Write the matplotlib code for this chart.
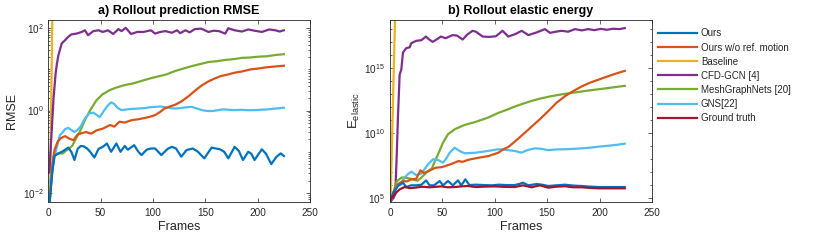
import numpy as np
import matplotlib
matplotlib.use("Agg")
import matplotlib.pyplot as plt
from matplotlib.ticker import FixedLocator, LogFormatterMathtext, NullFormatter

plt.rcParams['font.family'] = ['Liberation Sans', 'DejaVu Sans']
plt.rcParams['mathtext.fontset'] = 'custom'
plt.rcParams['mathtext.rm'] = 'Liberation Sans'
plt.rcParams['mathtext.it'] = 'Liberation Sans:italic'

# ---------------- data (log10 values) ----------------
labels = ["Ours", "Ours w/o ref. motion", "Baseline", "CFD-GCN [4]",
          "MeshGraphNets [20]", "GNS[22]", "Ground truth"]
colors = ["#0072BD", "#D95319", "#EDB120", "#7E2F8E", "#77AC30", "#4DBEEE", "#A2142F"]

# a) RMSE
rmse_ours_f = [1, 2, 4, 6, 9, 13, 16, 19, 22, 25, 28, 31, 34, 37, 40, 44, 48, 52, 56, 60, 65, 69,
               73, 76, 82, 86, 89, 94, 98, 102, 108, 114, 118, 122, 127, 132, 138, 143, 149, 156,
               164, 168, 172, 178, 182, 186, 191, 194, 197, 204, 208, 213, 218, 222, 225]
rmse_ours = [-2.3, -2.0, -1.45, -1.1, -1.05, -1.0, -0.95, -0.9, -1.0, -1.2, -0.93, -0.86, -0.87,
             -0.92, -1.0, -1.14, -0.93, -0.88, -0.80, -1.0, -0.80, -1.0, -0.86, -0.95, -0.84,
             -1.0, -1.08, -0.95, -0.92, -0.92, -1.08, -0.93, -0.88, -0.92, -1.12, -0.96, -0.92,
             -1.0, -1.16, -0.9, -0.94, -1.0, -1.16, -0.88, -0.98, -1.2, -1.0, -1.05, -1.2, -0.94,
             -1.05, -1.3, -1.12, -1.04, -1.1]

rmse_norm_f = [1, 2, 4, 6, 9, 12, 16, 20, 24, 28, 32, 36, 41, 46, 52, 59, 63, 68, 73, 80, 86, 92,
               97, 102, 107, 111, 116, 121, 127, 134, 140, 146, 153, 159, 165, 172, 178, 185,
               193, 200, 208, 216, 225]
rmse_norm = [-2.3, -2.0, -1.3, -0.95, -0.75, -0.67, -0.62, -0.68, -0.72, -0.58, -0.55, -0.52,
             -0.56, -0.48, -0.44, -0.35, -0.39, -0.27, -0.29, -0.23, -0.21, -0.18, -0.15, -0.11,
             -0.03, 0.05, 0.1, 0.14, 0.22, 0.35, 0.48, 0.6, 0.71, 0.78, 0.84, 0.88, 0.92, 0.95,
             1.0, 1.02, 1.05, 1.07, 1.09]

rmse_base_f = [0, 1, 2, 3, 4, 5]
rmse_base = [-5.4, -3.4, -1.4, 0.6, 2.6, 4.6]

rmse_cfd_f = [1, 3, 5, 7, 8, 9.6, 12.8, 16, 19, 22, 27, 32, 35, 38, 43, 48, 52, 57, 62, 67, 70,
              74, 79, 85, 91, 98, 102, 107, 112, 118, 123, 126, 131, 135, 140, 146, 153, 158,
              163, 169, 172, 178, 185, 191, 197, 204, 211, 217, 221, 225]
rmse_cfd = [-1.5, -0.6, 0.3, 0.9, 1.1, 1.34, 1.63, 1.71, 1.79, 1.85, 1.87, 1.91, 1.95, 1.83,
            1.93, 1.95, 1.91, 1.95, 1.86, 1.98, 1.93, 2.01, 1.86, 1.91, 1.91, 1.95, 1.87, 1.91,
            1.93, 1.89, 1.95, 1.88, 1.95, 1.9, 1.98, 1.99, 1.91, 1.94, 1.93, 1.87, 2.0, 1.95,
            1.92, 1.97, 1.94, 1.91, 1.97, 1.95, 1.92, 1.95]

rmse_mgn_f = [1, 2, 5, 8, 11, 14, 17, 20, 23, 26, 30, 35, 40, 46, 52, 59, 65, 73, 81, 89, 97,
              105, 113, 121, 129, 137, 145, 153, 161, 169, 177, 185, 193, 201, 209, 217, 225]
rmse_mgn = [-2.3, -2.0, -1.1, -1.05, -1.04, -1.04, -0.97, -0.92, -0.85, -0.7, -0.52, -0.23,
            0.01, 0.25, 0.4, 0.5, 0.56, 0.62, 0.66, 0.72, 0.78, 0.83, 0.88, 0.96, 1.02, 1.08,
            1.13, 1.18, 1.2, 1.23, 1.25, 1.28, 1.29, 1.31, 1.32, 1.35, 1.37]

rmse_gns_f = [1, 3, 6, 8, 11, 13, 16, 19, 22, 25, 28, 31, 35, 39, 43, 46, 49, 52, 56, 60, 63,
              66, 70, 75, 80, 86, 92, 97, 102, 107, 112, 117, 121, 126, 132, 137, 142, 147, 152,
              157, 162, 167, 172, 177, 184, 190, 196, 203, 210, 217, 225]
rmse_gns = [-1.75, -1.6, -1.1, -0.9, -0.6, -0.55, -0.45, -0.42, -0.47, -0.52, -0.47, -0.38,
            -0.19, -0.07, -0.05, -0.1, -0.16, -0.05, 0.1, 0.2, 0.16, 0.07, 0.01, 0.03, 0.04, 0.05,
            0.06, 0.08, 0.09, 0.1, 0.08, 0.06, 0.05, 0.06, 0.08, 0.09, 0.05, 0.01, -0.01, -0.01,
            0.01, 0.03, 0.02, 0.01, 0.02, 0.01, 0.01, 0.02, 0.03, 0.05, 0.07]

# b) elastic energy
en_ours_f = [1, 3, 7.6, 12.4, 15.5, 20, 25, 30, 34.5, 37.7, 42, 47.4, 50.6, 55.3, 60, 64.9, 68,
             71.9, 75.8, 82, 90, 97, 104, 111, 119, 124, 127, 132, 140, 145, 151, 159, 167, 175,
             183, 191, 199, 210, 224]
en_ours = [4.9, 5.43, 5.95, 6.2, 5.87, 6.0, 6.0, 6.05, 6.38, 6.0, 6.0, 6.33, 6.0, 6.33, 6.0,
           6.38, 6.0, 6.46, 6.02, 6.05, 6.02, 6.0, 6.05, 6.02, 6.02, 6.12, 6.2, 6.0, 6.1, 6.05,
           5.95, 6.0, 6.05, 5.98, 5.95, 5.9, 5.87, 5.87, 5.87]

en_norm_f = [1, 4.6, 7.6, 12.4, 16, 20.3, 25, 29, 32.2, 36.9, 43.3, 49.6, 57.5, 65.5, 69, 75,
             84.6, 94, 103.5, 108, 113, 119, 127, 135, 143, 151, 159, 167, 175, 183, 191, 199,
             207, 215, 224]
en_norm = [4.9, 5.69, 6.1, 6.33, 6.3, 6.46, 6.5, 7.15, 6.95, 7.1, 7.35, 7.4, 7.61, 7.87, 7.8,
           7.97, 8.12, 8.25, 8.51, 8.77, 8.95, 9.35, 9.92, 10.5, 11.08, 11.7, 12.35, 12.85,
           13.25, 13.6, 13.89, 14.12, 14.35, 14.57, 14.79]

en_base_f = [0, 1, 2, 3, 4, 5]
en_base = [3.0, 6.3, 9.6, 12.9, 16.2, 19.5]

en_cfd_f = [1, 3, 5, 6.5, 7.6, 9.2, 10.8, 12.4, 15.5, 18.7, 20.3, 25, 30, 34.3, 37.5, 40.7, 45.4,
            48.6, 53, 59.8, 64, 69.3, 74, 78.8, 82, 88.4, 94.7, 101, 107.4, 112.8, 119.3, 125.7,
            132, 140, 147.9, 152.7, 158, 163.8, 170, 176.5, 183, 189, 195, 201, 207, 213, 219,
            224]
en_cfd = [4.8, 5.0, 5.3, 8.5, 11.3, 14.5, 14.9, 16.2, 16.54, 16.6, 16.92, 17.1, 17.15, 17.43,
          17.2, 17.02, 17.25, 17.43, 17.3, 17.54, 17.5, 17.2, 17.6, 17.87, 17.8, 17.43, 17.4,
          17.45, 17.87, 17.43, 17.61, 17.87, 17.54, 17.75, 18.0, 17.71, 17.8, 17.87, 17.8, 18.0,
          17.9, 18.0, 17.92, 18.02, 17.95, 18.03, 18.0, 18.08]

en_mgn_f = [1, 3, 6.4, 11, 14, 20, 26, 30, 35, 40, 42, 45.8, 50.6, 55.3, 61.6, 71.2, 80.8, 93.5,
            103, 111.3, 119, 127.2, 135, 143.1, 151, 159, 167, 175, 183, 191, 199, 207, 215, 224]
en_mgn = [4.9, 5.4, 6.3, 6.6, 6.6, 6.5, 6.35, 6.6, 7.0, 7.3, 7.7, 8.38, 9.28, 9.92, 10.3, 10.64,
          10.85, 11.2, 11.55, 11.8, 12.05, 12.28, 12.48, 12.66, 12.8, 12.92, 13.03, 13.12, 13.21,
          13.3, 13.38, 13.46, 13.55, 13.64]

en_gns_f = [1, 3, 7, 11, 14, 17, 20.3, 25, 29.8, 33, 36.2, 41, 45.8, 50.6, 54, 57, 61.6, 66.4,
            71.2, 80.8, 93.5, 103, 111, 119, 125.5, 131, 138, 145, 151, 159, 167, 175, 183, 191,
            199, 207, 215, 224]
en_gns = [4.9, 5.43, 5.9, 6.25, 6.59, 6.85, 7.05, 6.79, 6.9, 7.25, 7.61, 8.0, 7.95, 7.74, 8.1,
          8.51, 8.89, 8.64, 8.46, 8.5, 8.64, 8.77, 8.72, 8.64, 8.51, 8.7, 8.84, 8.8, 8.7, 8.76,
          8.77, 8.8, 8.84, 8.89, 8.97, 9.03, 9.1, 9.2]

en_gt_f = [1, 3, 6, 9.2, 14, 19, 24, 30, 38, 49, 55, 62, 68, 74, 82, 90, 100, 110, 119, 127, 135,
           143, 151, 159, 167, 175, 183, 191, 199, 210, 224]
en_gt = [4.95, 5.18, 5.45, 5.69, 5.87, 5.78, 5.82, 5.89, 5.85, 5.92, 5.85, 5.87, 5.92, 5.95,
         5.87, 5.9, 5.92, 5.88, 5.87, 6.0, 5.85, 6.0, 5.82, 5.9, 5.93, 5.85, 5.85, 5.8, 5.77,
         5.77, 5.77]

x_ticks = [0, 50, 100, 150, 200, 250]

# ---------------- figure ----------------
fig = plt.figure(figsize=(8.3, 2.4), dpi=100)
ax1 = fig.add_axes([48.3 / 830, 1 - 202 / 240, (310 - 48.3) / 830, 182 / 240])
ax2 = fig.add_axes([390 / 830, 1 - 202 / 240, (652 - 390) / 830, 182 / 240])

lw = 1.6
series1 = [(rmse_ours_f, rmse_ours), (rmse_norm_f, rmse_norm), (rmse_base_f, rmse_base),
           (rmse_cfd_f, rmse_cfd), (rmse_mgn_f, rmse_mgn), (rmse_gns_f, rmse_gns)]
series2 = [(en_ours_f, en_ours), (en_norm_f, en_norm), (en_base_f, en_base),
           (en_cfd_f, en_cfd), (en_mgn_f, en_mgn), (en_gns_f, en_gns), (en_gt_f, en_gt)]

order = [2, 3, 4, 5, 1, 0, 6]
for i in order:
    if i < len(series1):
        f, v = series1[i]
        ax1.plot(f, 10.0 ** np.array(v), color=colors[i], lw=lw, zorder=2 + (i == 0))
for i in order:
    f, v = series2[i]
    ax2.plot(f, 10.0 ** np.array(v), color=colors[i], lw=lw, label=labels[i])

fs_tick = 7.2
for ax in (ax1, ax2):
    ax.set_yscale('log')
    ax.set_xlim(0, 250)
    ax.set_xticks(x_ticks)
    ax.tick_params(which='both', direction='in', top=True, right=True, labelsize=fs_tick,
                   width=0.5, color='#262626', labelcolor='#262626')
    ax.tick_params(which='major', length=3)
    ax.tick_params(which='minor', length=1.6)
    ax.tick_params(axis='x', pad=4.5)
    for s in ax.spines.values():
        s.set_linewidth(0.6)
        s.set_color('#262626')
    ax.set_xlabel('Frames', fontsize=9, labelpad=2, color='#262626')

ax1.set_ylim(10 ** -2.22, 10 ** 2.2)
ax1.yaxis.set_major_locator(FixedLocator([1e-2, 1e0, 1e2]))
minors1 = [k * 10.0 ** n for n in range(-3, 3) for k in range(1, 10)]
ax1.yaxis.set_minor_locator(FixedLocator(minors1))
ax1.yaxis.set_major_formatter(LogFormatterMathtext())
ax1.yaxis.set_minor_formatter(NullFormatter())
ax1.set_ylabel('RMSE', fontsize=9, labelpad=3, color='#262626')
ax1.set_title('a) Rollout prediction RMSE', fontsize=9, fontweight='bold', pad=4)

ax2.set_ylim(10 ** 4.72, 10 ** 18.7)
ax2.yaxis.set_major_locator(FixedLocator([1e5, 1e10, 1e15]))
ax2.yaxis.set_minor_locator(FixedLocator([10.0 ** n for n in range(4, 20)]))
ax2.yaxis.set_major_formatter(LogFormatterMathtext())
ax2.yaxis.set_minor_formatter(NullFormatter())
ax2.set_ylabel(r'$\mathrm{E}_{\mathrm{elastic}}$', fontsize=9.5, labelpad=2, color='#262626')
ax2.set_title('b) Rollout elastic energy', fontsize=9, fontweight='bold', pad=4)

handles, labs = ax2.get_legend_handles_labels()
hmap = dict(zip(labs, handles))
leg = fig.legend([hmap[l] for l in labels], labels, loc='upper left',
                 bbox_to_anchor=(658 / 830, 1 - 28.5 / 240), frameon=False, fontsize=7,
                 handlelength=4.0, handletextpad=0.4, labelspacing=0.42, borderaxespad=0,
                 borderpad=0)
for t in leg.get_texts():
    t.set_color('#262626')

fig.savefig('out.png', dpi=100)
